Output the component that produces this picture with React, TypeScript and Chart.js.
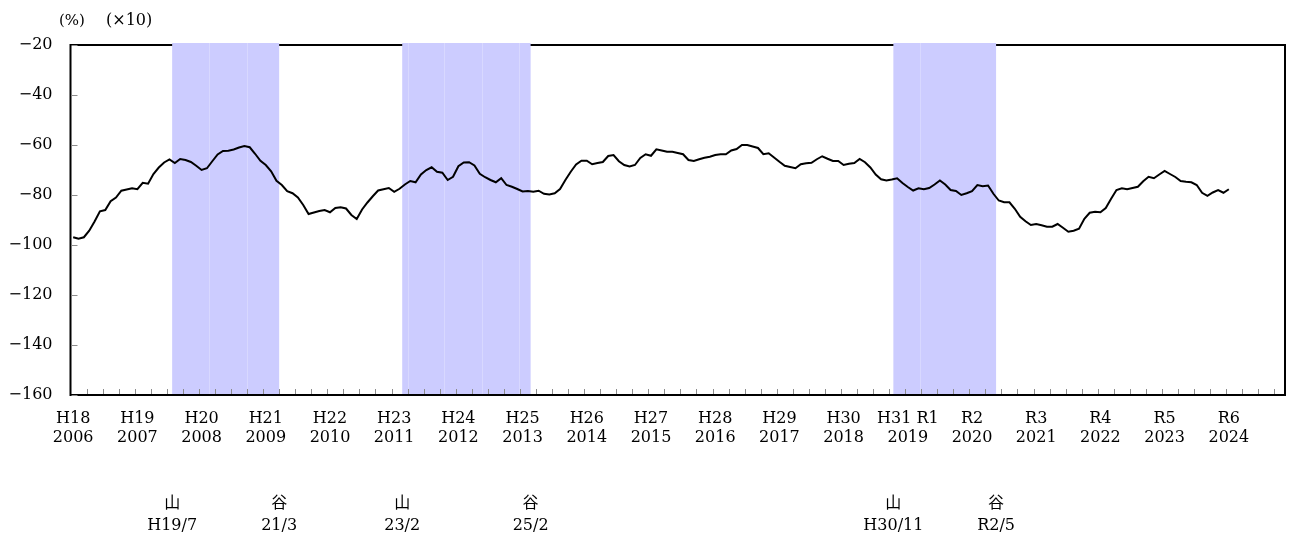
import React, { useEffect, useRef } from "react";
import { Chart, registerables } from "chart.js";

Chart.register(...registerables);

// Monthly values, 2006/1 (index 0) .. 2024/1 (index 216)
const values: number[] = [
  -96.9, -97.5, -96.9, -94.3, -90.6, -86.5, -86.0, -82.5, -81.0, -78.3, -77.8, -77.3,
  -77.7, -75.1, -75.5, -71.6, -69.0, -67.0, -65.8, -67.2, -65.6, -66.0, -66.8, -68.3,
  -70.0, -69.3, -66.5, -63.8, -62.4, -62.3, -61.8, -61.0, -60.4, -60.9, -63.5, -66.3,
  -68.0, -70.5, -74.3, -76.0, -78.5, -79.3, -81.0, -84.0, -87.6, -87.0, -86.4, -86.0,
  -86.9, -85.2, -84.9, -85.4, -88.0, -89.6, -85.8, -83.0, -80.5, -78.2, -77.7, -77.2,
  -78.7, -77.5, -75.8, -74.4, -74.9, -71.8, -70.0, -68.9, -70.7, -71.1, -74.0, -72.7,
  -68.5, -67.0, -66.9, -68.2, -71.5, -72.9, -74.0, -74.9, -73.3, -76.0, -76.7, -77.6,
  -78.6, -78.4, -78.7, -78.3, -79.5, -79.8, -79.3, -77.6, -74.0, -70.7, -67.8, -66.3,
  -66.3, -67.7, -67.2, -66.8, -64.4, -64.0, -66.5, -68.0, -68.6, -68.0, -65.2, -63.7,
  -64.3, -61.7, -62.2, -62.7, -62.7, -63.2, -63.7, -66.0, -66.4, -65.7, -65.1, -64.7,
  -64.0, -63.7, -63.7, -62.2, -61.6, -60.0, -60.0, -60.6, -61.2, -63.7, -63.3, -65.0,
  -66.7, -68.3, -68.8, -69.3, -67.7, -67.3, -67.1, -65.7, -64.5, -65.5, -66.4, -66.4,
  -68.0, -67.5, -67.2, -65.6, -66.9, -69.0, -71.8, -73.7, -74.2, -73.8, -73.3, -75.2,
  -76.8, -78.2, -77.3, -77.7, -77.2, -75.8, -74.2, -75.8, -78.0, -78.4, -80.0, -79.3,
  -78.5, -76.0, -76.5, -76.2, -79.5, -82.2, -82.9, -82.9, -85.5, -88.7, -90.5, -92.0,
  -91.6, -92.1, -92.7, -92.7, -91.6, -93.1, -94.7, -94.3, -93.5, -89.5, -87.1, -86.7,
  -86.9, -85.2, -81.5, -78.0, -77.3, -77.7, -77.2, -76.7, -74.5, -72.7, -73.3, -71.8,
  -70.4, -71.6, -72.8, -74.4, -74.7, -74.9, -76.0, -79.1, -80.3, -79.0, -78.0, -79.1,
  -77.7,
];

const eraLabels = ["H18", "H19", "H20", "H21", "H22", "H23", "H24", "H25", "H26", "H27", "H28", "H29", "H30", "H31 R1", "R2", "R3", "R4", "R5", "R6"];
const yearLabels = ["2006", "2007", "2008", "2009", "2010", "2011", "2012", "2013", "2014", "2015", "2016", "2017", "2018", "2019", "2020", "2021", "2022", "2023", "2024"];
const yearStartMonths = [0, 12, 24, 36, 48, 60, 72, 84, 96, 108, 120, 132, 144, 156, 168, 180, 192, 204, 216];

const yTickValues = [-160, -140, -120, -100, -80, -60, -40, -20];

// Shaded recession periods (month index)
const recessionStarts = [18.5, 61.5, 153.3];
const recessionEnds = [38.5, 85.5, 172.5];
// faint seams visible inside the shading (month index)
const bandSeams = [25.4, 32.4, 62.5, 69.4, 76.5, 83.3, 158.3];

// Turning point annotations
const turnKinds = ["山", "谷", "山", "谷", "山", "谷"];
const turnDates = ["H19/7", "21/3", "23/2", "25/2", "H30/11", "R2/5"];
const turnMonths = [18.5, 38.5, 61.5, 85.5, 153.3, 172.5];

const FONT = "'DejaVu Serif', 'Noto Sans CJK JP', serif";

const decorPlugin = {
  id: "decor",
  beforeDatasetsDraw(chart: any) {
    const { ctx, chartArea: a, scales } = chart;
    const x = scales.x;
    const y = scales.y;
    ctx.save();
    // frame
    ctx.strokeStyle = "#000";
    ctx.lineWidth = 2;
    ctx.strokeRect(a.left, a.top, a.right - a.left, a.bottom - a.top);
    // recession bands
    ctx.fillStyle = "rgb(204,204,255)";
    for (let k = 0; k < recessionStarts.length; k++) {
      const x0 = x.getPixelForValue(recessionStarts[k]);
      const x1 = x.getPixelForValue(recessionEnds[k]);
      ctx.fillRect(x0, a.top - 2, x1 - x0, a.bottom - a.top + 1);
    }
    ctx.strokeStyle = "rgb(216,216,255)";
    ctx.lineWidth = 1;
    ctx.beginPath();
    for (const s of bandSeams) {
      const px = Math.round(x.getPixelForValue(s)) + 0.5;
      ctx.moveTo(px, a.top - 2);
      ctx.lineTo(px, a.bottom - 1);
    }
    ctx.stroke();
    // quarterly tick marks on x
    ctx.strokeStyle = "#8c8c8c";
    ctx.lineWidth = 1;
    ctx.beginPath();
    for (let m = 2.5; m < x.max; m += 3) {
      const px = Math.round(x.getPixelForValue(m)) + 0.5;
      ctx.moveTo(px, a.bottom - 1);
      ctx.lineTo(px, a.bottom - 6);
    }
    // y tick marks
    for (const v of yTickValues) {
      const py = Math.round(y.getPixelForValue(v)) + 0.5;
      ctx.moveTo(a.left + 1, py);
      ctx.lineTo(a.left + 7, py);
    }
    ctx.stroke();
    ctx.restore();
  },
  afterDraw(chart: any) {
    const { ctx, scales } = chart;
    const x = scales.x;
    ctx.save();
    ctx.fillStyle = "#000";
    ctx.textBaseline = "middle";
    ctx.textAlign = "left";
    ctx.font = `15px ${FONT}`;
    ctx.fillText("(%)", 59, 21);
    ctx.font = `16px ${FONT}`;
    ctx.fillText("(×10)", 106, 21);
    ctx.textAlign = "center";
    ctx.font = `16px ${FONT}`;
    for (let k = 0; k < turnMonths.length; k++) {
      const px = x.getPixelForValue(turnMonths[k]);
      ctx.fillText(turnKinds[k], px, 504);
      ctx.fillText(turnDates[k], px, 526);
    }
    ctx.restore();
  },
};

export default function App() {
  const ref = useRef<HTMLCanvasElement | null>(null);
  useEffect(() => {
    if (!ref.current) return;
    const chart = new Chart(ref.current, {
      type: "line",
      data: {
        datasets: [
          {
            data: values.map((v, i) => ({ x: i, y: v })),
            borderColor: "#000",
            borderWidth: 2,
            pointRadius: 0,
            tension: 0,
            fill: false,
          },
        ],
      },
      options: {
        responsive: false,
        animation: false,
        layout: { padding: { top: 45, right: 6, left: 0, bottom: 83 } },
        plugins: { legend: { display: false }, tooltip: { enabled: false } },
        scales: {
          x: {
            type: "linear",
            min: -0.5,
            max: 226.5,
            border: { display: false },
            grid: { display: false, drawTicks: false },
            afterBuildTicks: (scale: any) => {
              scale.ticks = yearStartMonths.map((v) => ({ value: v }));
            },
            afterFit: (scale: any) => {
              scale.height = 60;
            },
            ticks: {
              autoSkip: false,
              maxRotation: 0,
              minRotation: 0,
              padding: 14,
              color: "#000",
              font: { family: FONT, size: 16, lineHeight: 1.2 },
              callback: (value: any) => {
                const k = yearStartMonths.indexOf(Number(value));
                return k >= 0 ? [eraLabels[k], yearLabels[k]] : "";
              },
            },
          },
          y: {
            min: -160,
            max: -20,
            border: { display: false },
            grid: { display: false, drawTicks: false },
            afterBuildTicks: (scale: any) => {
              scale.ticks = yTickValues.map((v) => ({ value: v }));
            },
            afterFit: (scale: any) => {
              scale.width = 70.5;
            },
            ticks: {
              padding: 18,
              color: "#000",
              font: { family: FONT, size: 16 },
              callback: (value: any) => (Number(value) < 0 ? "\u2212" + Math.abs(Number(value)) : String(value)),
            },
          },
        },
      },
      plugins: [decorPlugin],
    });
    return () => chart.destroy();
  }, []);
  return (
    <canvas
      ref={ref}
      width={1291}
      height={538}
      style={{ position: "absolute", left: 0, top: 0, display: "block" }}
    />
  );
}
